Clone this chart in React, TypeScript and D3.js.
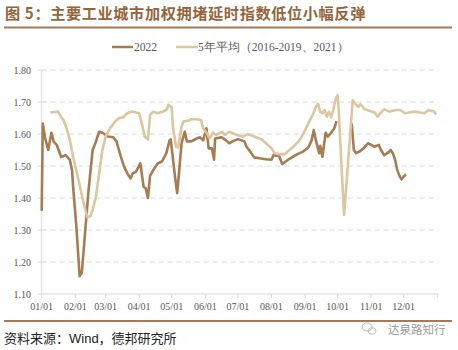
import React from "react";
import * as d3 from "d3";

const title = "图 5：主要工业城市加权拥堵延时指数低位小幅反弹";
const source = "资料来源：Wind，德邦研究所";
const watermark = "达泉路知行";
const seriesNames = ["2022", "5年平均（2016-2019、2021）"];
const yTicks = [1.1, 1.2, 1.3, 1.4, 1.5, 1.6, 1.7, 1.8];
const xTickLabels = ["01/01", "02/01", "03/01", "04/01", "05/01", "06/01", "07/01", "08/01", "09/01", "10/01", "11/01", "12/01"];

const dates2022 = [
  "01-01", "01-02", "01-04", "01-07", "01-10", "01-12", "01-15", "01-19", "01-23", "01-27", "01-29", "01-30",
  "02-02", "02-05", "02-07", "02-10", "02-13", "02-17", "02-20", "02-23", "02-26",
  "03-03", "03-08", "03-11", "03-15", "03-18", "03-21", "03-24", "03-26", "03-29",
  "04-02", "04-05", "04-07", "04-09", "04-11", "04-15", "04-18", "04-22", "04-26", "04-29", "04-30",
  "05-04", "05-06", "05-08", "05-10", "05-13", "05-15", "05-19", "05-24", "05-27", "05-30",
  "06-02", "06-04", "06-07", "06-09", "06-10", "06-16", "06-20", "06-23", "06-26",
  "07-01", "07-07", "07-09", "07-12", "07-16", "07-21", "07-27",
  "08-01", "08-03", "08-08", "08-11", "08-16", "08-21", "08-25", "08-30",
  "09-04", "09-07", "09-09", "09-11", "09-14", "09-15", "09-17", "09-20", "09-22", "09-25", "09-28", "09-30",
  "10-07",
  "10-14", "10-16", "10-18", "10-21", "10-25", "10-29",
  "11-01", "11-04", "11-08", "11-10", "11-13", "11-16", "11-19", "11-21", "11-23", "11-25", "11-27", "11-29",
  "12-01", "12-03",
];
const values2022: (number | null)[] = [
  1.36, 1.633, 1.59, 1.55, 1.604, 1.576, 1.565, 1.528, 1.534, 1.519, 1.487, 1.435,
  1.31, 1.156, 1.166, 1.29, 1.416, 1.55, 1.576, 1.607, 1.604,
  1.592, 1.59, 1.577, 1.529, 1.498, 1.477, 1.461, 1.477, 1.482,
  1.508, 1.435, 1.43, 1.40, 1.47, 1.493, 1.508, 1.514, 1.54, 1.58, 1.583,
  1.467, 1.415, 1.49, 1.571, 1.607, 1.577, 1.577, 1.586, 1.59, 1.58,
  1.618, 1.555, 1.555, 1.52, 1.586, 1.59, 1.58, 1.571, 1.577,
  1.584, 1.577, 1.56, 1.547, 1.527, 1.524, 1.521,
  1.52, 1.534, 1.531, 1.506, 1.519, 1.529, 1.537, 1.545,
  1.558, 1.58, 1.612, 1.58, 1.54, 1.563, 1.529, 1.604, 1.592, 1.604, 1.618, 1.64,
  null,
  1.633, 1.55, 1.54, 1.545, 1.555, 1.571,
  1.566, 1.56, 1.566, 1.55, 1.534, 1.54, 1.55, 1.54, 1.52, 1.488, 1.47, 1.458,
  1.467, 1.474,
];

const datesAvg = [
  "01-09", "01-16", "01-19", "01-21", "01-24", "01-27", "01-30",
  "02-04", "02-08", "02-12", "02-15", "02-17", "02-20", "02-23", "02-26",
  "03-01", "03-05", "03-10", "03-13", "03-17", "03-21", "03-25", "03-29",
  "04-01", "04-04", "04-06", "04-09", "04-11", "04-14", "04-18", "04-23", "04-26", "04-28",
  "05-01", "05-02", "05-05", "05-07", "05-10", "05-12", "05-16", "05-19", "05-24", "05-28", "05-30",
  "06-02", "06-05", "06-08", "06-11", "06-16", "06-19", "06-23", "06-28",
  "07-03", "07-06", "07-10", "07-16", "07-23", "07-27",
  "08-01", "08-04", "08-08", "08-13", "08-16", "08-21", "08-25", "08-28",
  "09-01", "09-05", "09-08", "09-11", "09-13", "09-15", "09-17", "09-19", "09-21", "09-23", "09-25", "09-27", "09-29",
  "10-01", "10-02", "10-04", "10-07", "10-09", "10-12", "10-15", "10-17", "10-20", "10-22", "10-26", "10-31",
  "11-04", "11-07", "11-10", "11-13", "11-18", "11-24", "11-28",
  "12-02", "12-06", "12-11", "12-16", "12-20", "12-24", "12-26", "12-29", "12-31",
];
const valuesAvg = [
  1.667, 1.67, 1.654, 1.644, 1.618, 1.58, 1.529,
  1.456, 1.394, 1.34, 1.344, 1.363, 1.404, 1.477, 1.55,
  1.592, 1.618, 1.64, 1.649, 1.652, 1.665, 1.67, 1.667,
  1.665, 1.623, 1.592, 1.583, 1.659, 1.67, 1.665, 1.67, 1.675, 1.691,
  1.683, 1.623, 1.56, 1.558, 1.623, 1.64, 1.641, 1.646, 1.646, 1.644, 1.618,
  1.604, 1.586, 1.604, 1.597, 1.607, 1.597, 1.607, 1.60,
  1.594, 1.592, 1.60, 1.592, 1.583, 1.571,
  1.555, 1.54, 1.537, 1.537, 1.545, 1.56, 1.573, 1.586,
  1.612, 1.64, 1.659, 1.685, 1.694, 1.67, 1.665, 1.675, 1.654, 1.67, 1.652, 1.675, 1.706,
  1.722, 1.675, 1.54, 1.347, 1.435, 1.571, 1.706, 1.696, 1.685, 1.693, 1.677, 1.672,
  1.667, 1.654, 1.667, 1.677, 1.67, 1.675, 1.675,
  1.665, 1.667, 1.67, 1.667, 1.665, 1.675, 1.673, 1.67, 1.661,
];

const COLOR_2022 = "#a67c52";
const COLOR_AVG = "#dac79f";
const BROWN = "#a37a55";

function parseMD(s: string) {
  const [m, d] = s.split("-").map(Number);
  return new Date(2022, m - 1, d);
}

export default function App() {
  const left = 41.7, right = 437.3, top = 70, bottom = 294;
  const x = d3.scaleTime().domain([new Date(2022, 0, 1), new Date(2023, 0, 1)]).range([left, right]);
  const y = d3.scaleLinear().domain([1.1, 1.8]).range([bottom, top]);

  const tickDates = d3.timeMonth.range(new Date(2022, 0, 1), new Date(2023, 0, 2));

  type P = { d: Date; v: number | null };
  const line = d3.line<P>().defined((p) => p.v !== null).x((p) => x(p.d)).y((p) => y(p.v as number));
  const pts2022: P[] = dates2022.map((s, i) => ({ d: parseMD(s), v: values2022[i] }));
  const ptsAvg: P[] = datesAvg.map((s, i) => ({ d: parseMD(s), v: valuesAvg[i] }));

  const serif = "'Liberation Serif', 'DejaVu Serif', serif";

  return (
    <svg width={458} height={350} style={{ position: "absolute", left: 0, top: 0, background: "#fff" }}>
      <rect width={458} height={350} fill="#fff" />
      <text x={5} y={18.5} fontFamily="'Noto Sans CJK SC', sans-serif" fontWeight="bold" fontSize={15.2} fill="#94653b" letterSpacing={0.6}>
        {title}
      </text>
      <line x1={4} x2={452} y1={27.5} y2={27.5} stroke={BROWN} strokeWidth={2} />

      {/* legend */}
      <line x1={112} x2={133} y1={47} y2={47} stroke={COLOR_2022} strokeWidth={2.5} />
      <text x={134} y={50.5} fontFamily={serif} fontSize={11.5} fill="#595959">{seriesNames[0]}</text>
      <line x1={176} x2={198} y1={47} y2={47} stroke={COLOR_AVG} strokeWidth={2.5} />
      <text x={198} y={50.5} fontFamily={serif} fontSize={11.5} fill="#595959">{seriesNames[1]}</text>

      {/* grid */}
      {yTicks.slice(1).map((t) => (
        <line key={t} x1={left} x2={right + 1} y1={y(t)} y2={y(t)} stroke="#d9d9d9" strokeWidth={1} strokeDasharray="5,4" />
      ))}
      {/* y axis */}
      <line x1={left} x2={left} y1={top} y2={bottom} stroke="#d9d9d9" strokeWidth={1} />
      {yTicks.map((t) => (
        <g key={t}>
          <line x1={left - 4} x2={left} y1={y(t)} y2={y(t)} stroke="#d9d9d9" />
          <text x={31} y={y(t) + 3.5} textAnchor="end" fontFamily={serif} fontSize={10} fill="#595959">
            {t.toFixed(2)}
          </text>
        </g>
      ))}
      {/* x axis */}
      <line x1={left} x2={right + 1} y1={bottom} y2={bottom} stroke="#d9d9d9" strokeWidth={1} />
      {tickDates.map((dt, i) => (
        <line key={i} x1={x(dt)} x2={x(dt)} y1={bottom} y2={bottom + 4} stroke="#d9d9d9" />
      ))}
      {xTickLabels.map((lab, i) => (
        <text key={lab} x={x(tickDates[i])} y={309.5} textAnchor="middle" fontFamily={serif} fontSize={10} fill="#595959">
          {lab}
        </text>
      ))}

      {/* series */}
      <path d={line(pts2022) || ""} fill="none" stroke={COLOR_2022} strokeWidth={2.6} strokeLinejoin="round" />
      <path d={line(ptsAvg) || ""} fill="none" stroke={COLOR_AVG} strokeWidth={2.6} strokeLinejoin="round" />

      {/* footer */}
      <line x1={4} x2={452} y1={321} y2={321} stroke={BROWN} strokeWidth={2} />
      <text x={4} y={343} fontFamily="'Liberation Sans', 'Noto Sans CJK SC', sans-serif" fontSize={13} fill="#222">
        {source}
      </text>
      <g stroke="#aaa" strokeWidth={0.8} fill="none">
        <ellipse cx={367} cy={327} rx={5} ry={4} />
        <ellipse cx={372} cy={331} rx={4} ry={3.3} />
      </g>
      <text x={388} y={334} fontFamily="'Noto Sans CJK SC', sans-serif" fontSize={11.5} fill="#9a9a9a">
        {watermark}
      </text>
    </svg>
  );
}
